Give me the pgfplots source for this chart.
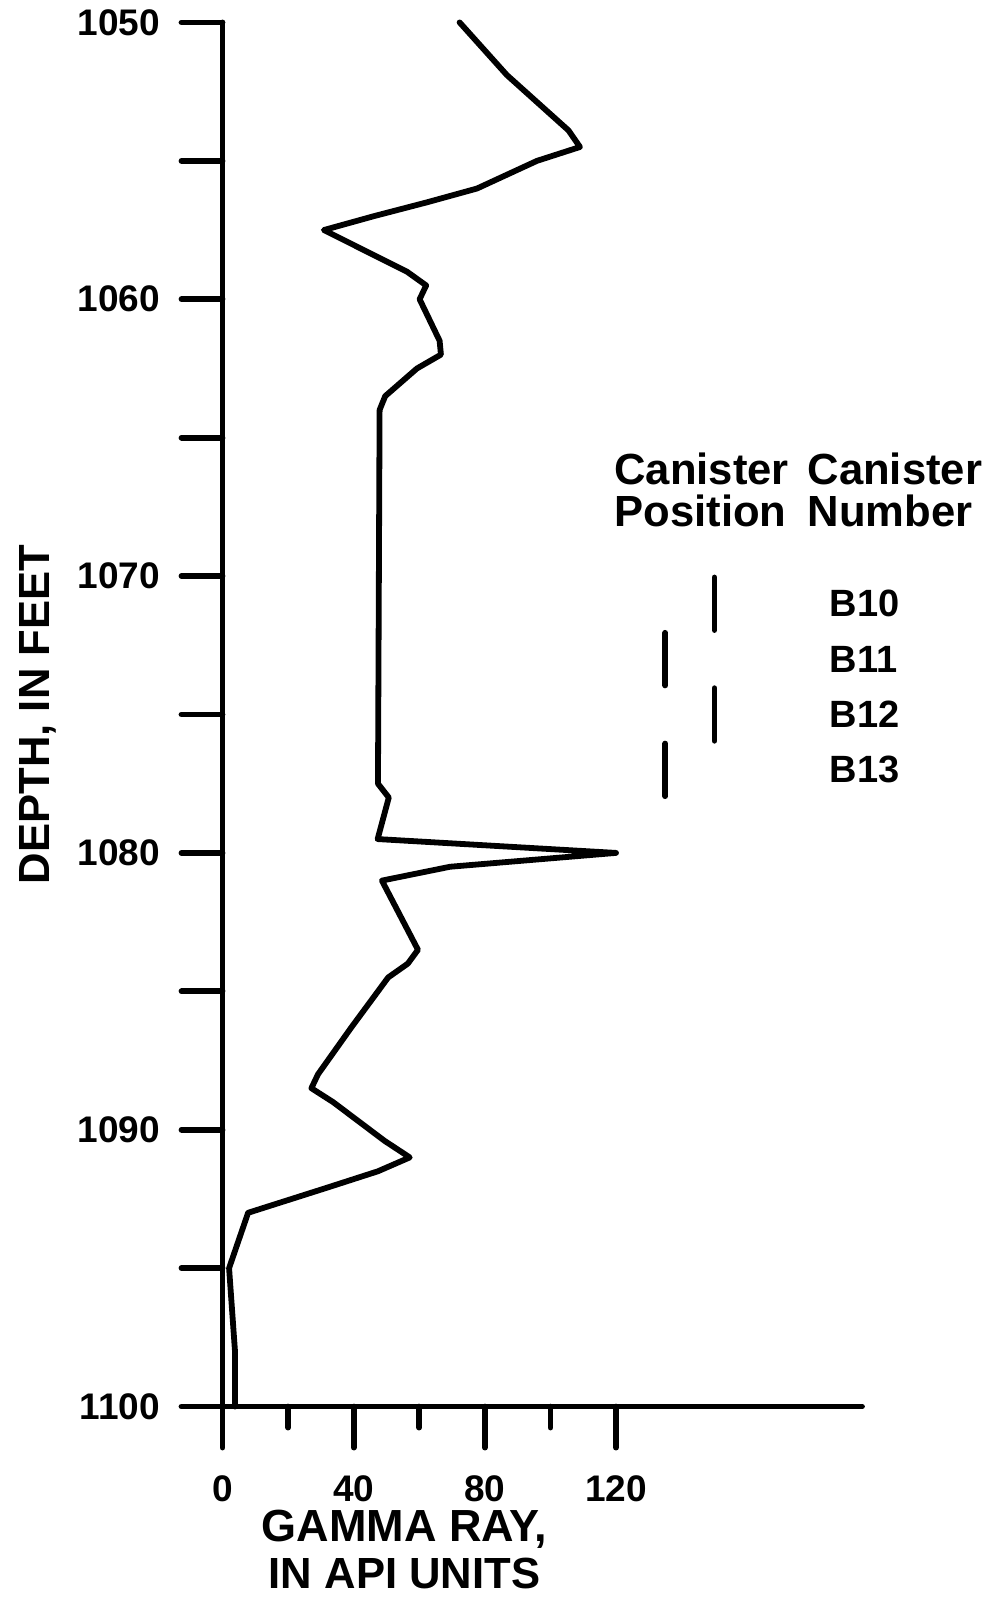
\documentclass[border=0pt]{standalone}
\usepackage{fontspec}
\setmainfont{Liberation Sans}
\usepackage{pgfplots}
\pgfplotsset{compat=1.18}
\begin{document}
\begin{tikzpicture}
\begin{axis}[
  scale only axis, width=319.7pt, height=692pt,
  xmin=0, xmax=195, ymin=1050, ymax=1100,
  y dir=reverse,
  axis x line*=bottom, axis y line*=left,
  axis line style={line width=2.9pt, line cap=round},
  xtick={0,40,80,120}, minor xtick={20,60,100},
  ytick={1050,1055,...,1100},
  yticklabels={1050,,1060,,1070,,1080,,1090,,1100},
  tick align=outside,
  major tick length=20.5pt, minor tick length=10.5pt,
  tick style={line width=2.9pt, black, line cap=round},
  every tick label/.append style={font=\fontsize{18.5}{18.5}\selectfont\bfseries},
  xticklabel style={anchor=north, inner sep=0pt, yshift=-14pt},
  yticklabel style={anchor=east, inner sep=0pt, xshift=-10.5pt},
  /pgf/number format/assume math mode=true,
  clip=false,
]
\addplot[line width=2.9pt, line join=round, line cap=round] coordinates {
(72.3,1050.0) (86.7,1051.9) (105.5,1053.9) (109.0,1054.5) (95.9,1055.0)
(77.6,1056.0) (62.3,1056.5) (46.1,1057.0) (30.9,1057.5) (56.2,1059.0)
(62.1,1059.5) (60.1,1060.0) (66.2,1061.5) (66.6,1062.0) (59.3,1062.5)
(49.6,1063.5) (47.9,1064.0) (47.4,1077.5) (50.7,1078.0) (47.3,1079.5)
(120.0,1080.0) (69.4,1080.5) (48.6,1081.0) (59.6,1083.5) (56.5,1084.0)
(50.5,1084.5) (47.4,1085.0) (39.3,1086.3) (34.5,1087.1) (29.1,1088.0)
(27.1,1088.5) (33.7,1089.0) (49.4,1090.4) (57.1,1091.0) (47.4,1091.5)
(31.7,1092.1) (7.8,1093.0) (2.0,1095.0) (3.8,1098.0) (3.8,1100.0)
};
% canister positions
\addplot[line width=2.9pt, line cap=round] coordinates {(150,1070.05) (150,1071.95)};
\addplot[line width=2.9pt, line cap=round] coordinates {(135,1072.05) (135,1073.95)};
\addplot[line width=2.9pt, line cap=round] coordinates {(150,1074.05) (150,1075.95)};
\addplot[line width=2.9pt, line cap=round] coordinates {(135,1076.05) (135,1077.95)};
\begin{scope}[every node/.style={inner sep=0pt}]
\node[anchor=west, font=\fontsize{19}{19}\selectfont\bfseries] at (axis cs:185,1071) {B10};
\node[anchor=west, font=\fontsize{19}{19}\selectfont\bfseries] at (axis cs:185,1073) {B11};
\node[anchor=west, font=\fontsize{19}{19}\selectfont\bfseries] at (axis cs:185,1075) {B12};
\node[anchor=west, font=\fontsize{19}{19}\selectfont\bfseries] at (axis cs:185,1077) {B13};
\node[anchor=base west, font=\fontsize{21.8}{21.8}\selectfont\bfseries] at (axis cs:119.4,1066.7) {Canister};
\node[anchor=base west, font=\fontsize{21.8}{21.8}\selectfont\bfseries] at (axis cs:119.4,1068.2) {Position};
\node[anchor=base west, font=\fontsize{21.8}{21.8}\selectfont\bfseries] at (axis cs:178.3,1066.7) {Canister};
\node[anchor=base west, font=\fontsize{21.8}{21.8}\selectfont\bfseries] at (axis cs:178.3,1068.2) {Number};
\node[anchor=base, font=\fontsize{22.5}{22.5}\selectfont\bfseries] at (axis cs:55.5,1104.89) {GAMMA RAY,};
\node[anchor=base, font=\fontsize{21.8}{21.8}\selectfont\bfseries] at (axis cs:55.5,1106.59) {IN API UNITS};
\node[anchor=base, rotate=90, font=\fontsize{21.8}{21.8}\selectfont\bfseries] at (axis cs:-52.9,1075) {DEPTH, IN FEET};
\end{scope}
\coordinate (bbA) at (axis cs:-67.86,1106.88);
\coordinate (bbB) at (axis cs:233.15,1049.19);
\end{axis}
\pgfresetboundingbox
\path[use as bounding box] (bbA) rectangle (bbB);
\end{tikzpicture}
\end{document}
